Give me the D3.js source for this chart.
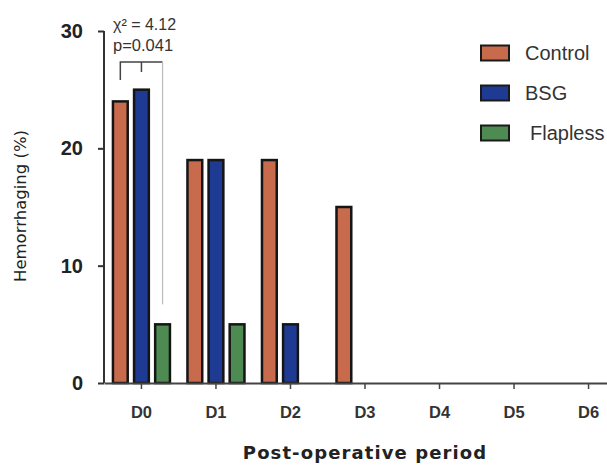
<!DOCTYPE html>
<html><head><meta charset="utf-8">
<script src="https://cdn.jsdelivr.net/npm/d3@7"></script>
<style>body{margin:0;background:#fff}</style>
</head><body>
<script>
const categories = ["D0","D1","D2","D3","D4","D5","D6"];
const seriesNames = ["Control","BSG","Flapless"];
const control = [24,19,19,15,0,0,0];
const bsg = [25,19,5,0,0,0,0];
const flapless = [5,5,0,0,0,0,0];
const yTicks = [0,10,20,30];
const colors = ["#c86a4c","#1f3a93","#4e8b52"];
const statText1 = "χ² = 4.12";
const statText2 = "p=0.041";

const W=607,H=466;
const svg=d3.select("body").append("svg").attr("width",W).attr("height",H);
const x=d3.scaleBand().domain(categories).range([104,626]).paddingInner(0.235).paddingOuter(0.12);
const y=d3.scaleLinear().domain([0,30]).range([383,31]);
const series=[control,bsg,flapless];
const xs=d3.scaleBand().domain(seriesNames).range([0,x.bandwidth()]).paddingInner(0.3);
const F="Arial, Liberation Sans, sans-serif";

series.forEach((vals,si)=>{
  svg.append("g").selectAll("rect").data(categories.map((c,i)=>({c,v:vals[i]})).filter(d=>d.v>0))
   .join("rect")
   .attr("x",d=>x(d.c)+xs(seriesNames[si])).attr("width",xs.bandwidth())
   .attr("y",d=>y(d.v)).attr("height",d=>y(0)-y(d.v))
   .attr("fill",colors[si]).attr("stroke","#151515").attr("stroke-width",2.5);
});

// y axis
const ya=svg.append("g").attr("transform","translate(104,0)")
 .call(d3.axisLeft(y).tickValues(yTicks).tickSize(6).tickPadding(15));
ya.select(".domain").attr("stroke","#333").attr("stroke-width",2).attr("d","M-0,31V383");
ya.selectAll(".tick line").attr("stroke","#333").attr("stroke-width",2);
ya.selectAll("text").attr("font-family",F).attr("font-size",20).attr("font-weight","bold").attr("fill","#222");

// x axis
const xa=svg.append("g").attr("transform","translate(0,383)")
 .call(d3.axisBottom(x).tickSize(6).tickSizeOuter(0).tickPadding(17));
xa.select(".domain").attr("stroke","#444").attr("stroke-width",2);
xa.selectAll(".tick line").attr("stroke","#444").attr("stroke-width",1.5);
xa.selectAll("text").attr("font-family",F).attr("font-size",16.5).attr("font-weight","bold").attr("fill","#333");

// axis titles
svg.append("text").attr("transform","translate(26,206) rotate(-90)").attr("text-anchor","middle")
 .attr("font-family","DejaVu Sans, sans-serif").attr("font-size",16.5).attr("fill","#222").text("Hemorrhaging (%)");
svg.append("text").attr("x",365).attr("y",459).attr("text-anchor","middle").attr("letter-spacing",1.1)
 .attr("font-family","DejaVu Sans, sans-serif").attr("font-size",18).attr("font-weight","bold").attr("fill","#222").text("Post-operative period");

// annotation bracket
const bx0=x("D0")+xs("Control")+xs.bandwidth()/2, bx1=x("D0")+xs("Flapless")+xs.bandwidth()/2;
const by=62;
svg.append("path").attr("d",`M${bx0},80V${by}H${bx1}`).attr("fill","none").attr("stroke","#444").attr("stroke-width",1.5);
svg.append("path").attr("d",`M${bx1},${by}V${y(5)-20}`).attr("fill","none").attr("stroke","#bbb").attr("stroke-width",1.2);
svg.append("path").attr("d",`M${(bx0+bx1)/2},${by}V72`).attr("fill","none").attr("stroke","#444").attr("stroke-width",1.5);
svg.append("text").attr("x",113).attr("y",30).attr("font-family",F).attr("font-size",16).attr("fill","#333").text(statText1);
svg.append("text").attr("x",113).attr("y",51).attr("font-family",F).attr("font-size",16.5).attr("fill","#333").text(statText2);

// legend
const lg=svg.append("g");
seriesNames.forEach((n,i)=>{
  const cy=53+i*40;
  lg.append("rect").attr("x",481).attr("y",cy-7.5).attr("width",28).attr("height",15).attr("fill",colors[i]).attr("stroke","#1a1a1a").attr("stroke-width",2);
  lg.append("text").attr("x",n==="Flapless"?530:525).attr("y",cy+7).attr("font-family",F).attr("font-size",20).attr("fill","#333").text(n);
});
</script>
</body></html>
